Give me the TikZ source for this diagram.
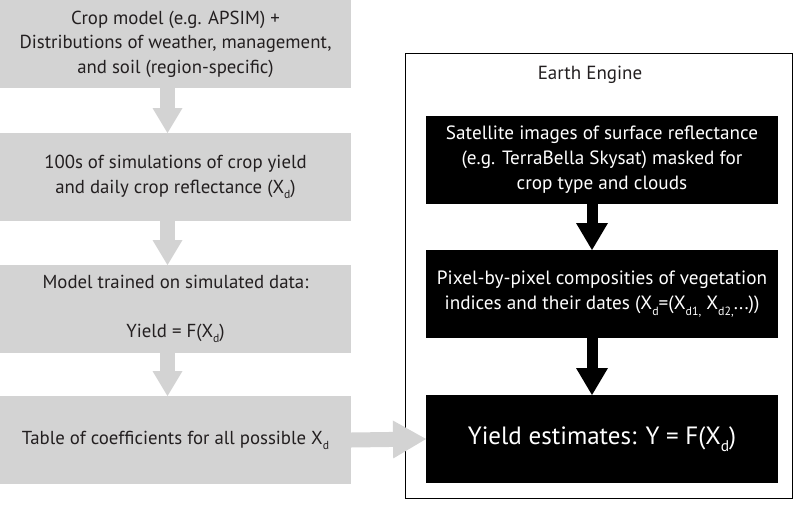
\documentclass[tikz,border=0pt]{standalone}
\usepackage{graphicx}
\usepackage{fontspec}
\setmainfont{PT Sans}
\usetikzlibrary{arrows.meta,positioning}
\definecolor{boxgrey}{RGB}{211,211,211}
\definecolor{inkgrey}{RGB}{35,31,32}
\newcommand{\lowsub}[1]{\raisebox{-0.55ex}{\scalebox{0.62}{#1}}}
\tikzstyle{greyarrow} = [draw=boxgrey, line width=15pt,%
	-{Triangle[width=30pt,length=25pt,line width=0pt]}]
\tikzstyle{widearrow} = [draw=boxgrey, line width=15pt,%
	-{Triangle[width=38pt,length=33pt,line width=0pt]}]
\tikzstyle{blackarrow} = [draw=black, line width=11pt,%
	-{Triangle[width=32pt,length=27pt,line width=0pt]}]

\begin{document}
\begin{tikzpicture}[x=1pt,y=-1pt]
    \tikzstyle{greybox}=[rectangle,fill=boxgrey,text=inkgrey,minimum width=351pt,minimum height=88pt,inner sep=0pt,outer sep=0pt,align=center,font=\fontsize{18.8}{24.5}\selectfont]
    \tikzstyle{blackbox}=[rectangle,fill=black,text=white,minimum width=352pt,minimum height=88pt,inner sep=0pt,outer sep=0pt,align=center,font=\fontsize{19.2}{25}\selectfont]
    \useasboundingbox (0,0) rectangle (796,507);
    \node[draw=black,line width=1pt,minimum width=387pt,minimum height=445pt,inner sep=0pt] (engine) at (598.5,275.5) {};
    \node[font=\fontsize{19}{22}\selectfont,text=inkgrey] (enginelabel) at (590,75) {Earth Engine};
    \begin{scope}
      \node[greybox] (crop) at (175.5,44) {Crop model (e.g. APSIM) +\\Distributions of weather, management,\\and soil (region-specific)};
      \node[greybox,below=45pt of crop] (sims) {100s of simulations of crop yield\\and daily crop reflectance (X\lowsub{d})};
      \node[greybox,below=44pt of sims] (trained) {Model trained on simulated data:\\[24pt]Yield = F(X\lowsub{d})};
      \node[greybox,below=43pt of trained] (table) {Table of coefficients for all possible X\lowsub{d}};
      \draw[greyarrow] ([xshift=-8pt]crop.south) -- ([xshift=-8pt]sims.north);
      \draw[greyarrow] ([xshift=-8pt]sims.south) -- ([xshift=-8pt]trained.north);
      \draw[greyarrow] ([xshift=-8pt]trained.south) -- ([xshift=-8pt]table.north);
    \end{scope}
    \begin{scope}
      \node[blackbox] (satellite) at (602,160) {Satellite images of surface reflectance\\(e.g. TerraBella Skysat) masked for\\crop type and clouds};
      \node[blackbox,below=46pt of satellite] (composite) {Pixel-by-pixel composities of vegetation\\indices and their dates (X\lowsub{d}=(X\lowsub{d1,} X\lowsub{d2,}...))};
      \node[blackbox,below=57pt of composite,font=\fontsize{25}{30}\selectfont] (estimate) {Yield estimates: Y = F(X\lowsub{d})};
      \draw[blackarrow] ([xshift=-10pt]satellite.south) -- ([xshift=-10pt]composite.north);
      \draw[blackarrow] ([xshift=-10pt]composite.south) -- ([xshift=-10pt]estimate.north);
    \end{scope}
    \draw[widearrow] (table.east) -- (estimate.west);
\end{tikzpicture}
\end{document}
